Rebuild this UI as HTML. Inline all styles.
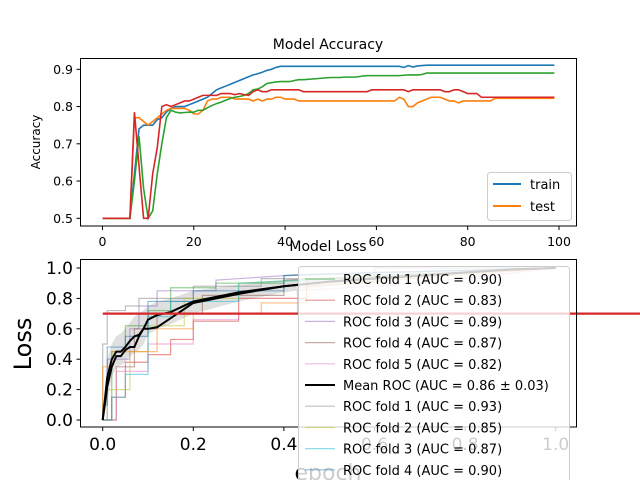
<!DOCTYPE html>
<html><head><meta charset="utf-8"><style>
html,body{margin:0;padding:0;background:#fff;}
svg{display:block;font-family:"DejaVu Sans","Liberation Sans",sans-serif;}
</style></head><body>
<svg id="fig" width="640" height="480" viewBox="0 0 640 480">
<rect width="640" height="480" fill="#fff"/>
<g id="top"></g>
<g id="bot"></g>
</svg>
<script>
// ---- Accuracy data ----
const accTrain=[0.5,0.5,0.5,0.5,0.5,0.5,0.5,0.62,0.74,0.75,0.75,0.75,0.765,0.77,0.785,0.795,0.8,0.8,0.8,0.805,0.81,0.815,0.82,0.825,0.835,0.845,0.85,0.855,0.86,0.865,0.87,0.875,0.88,0.885,0.888,0.892,0.897,0.9,0.905,0.908,0.908,0.908,0.908,0.908,0.908,0.908,0.908,0.908,0.908,0.908,0.908,0.908,0.908,0.908,0.908,0.908,0.908,0.908,0.908,0.908,0.908,0.908,0.908,0.908,0.908,0.908,0.905,0.91,0.906,0.909,0.91,0.911,0.911,0.911,0.911,0.911,0.911,0.911,0.911,0.911,0.911,0.911,0.911,0.911,0.911,0.911,0.911,0.911,0.911,0.911,0.911,0.911,0.911,0.911,0.911,0.911,0.911,0.911,0.911,0.911];
const accTest=[0.5,0.5,0.5,0.5,0.5,0.5,0.5,0.77,0.77,0.76,0.75,0.76,0.77,0.78,0.79,0.795,0.795,0.795,0.795,0.79,0.78,0.78,0.79,0.815,0.82,0.82,0.825,0.825,0.825,0.82,0.82,0.82,0.82,0.815,0.82,0.815,0.82,0.82,0.825,0.825,0.82,0.82,0.82,0.815,0.815,0.815,0.815,0.815,0.815,0.815,0.815,0.815,0.815,0.815,0.815,0.815,0.815,0.815,0.815,0.815,0.815,0.815,0.815,0.815,0.815,0.825,0.82,0.8,0.8,0.81,0.815,0.82,0.825,0.825,0.825,0.82,0.815,0.815,0.81,0.815,0.815,0.815,0.815,0.815,0.815,0.815,0.822,0.822,0.822,0.822,0.822,0.822,0.822,0.822,0.822,0.822,0.822,0.822,0.822,0.822];
const accGreen=[0.5,0.5,0.5,0.5,0.5,0.5,0.5,0.6,0.72,0.58,0.5,0.52,0.62,0.7,0.77,0.79,0.785,0.783,0.784,0.785,0.785,0.79,0.79,0.797,0.803,0.808,0.812,0.817,0.822,0.825,0.827,0.83,0.835,0.845,0.847,0.853,0.862,0.864,0.866,0.867,0.867,0.867,0.87,0.872,0.872,0.873,0.874,0.875,0.876,0.877,0.878,0.878,0.878,0.879,0.879,0.879,0.88,0.882,0.883,0.883,0.883,0.883,0.883,0.883,0.883,0.883,0.884,0.885,0.885,0.885,0.886,0.89,0.89,0.89,0.89,0.89,0.89,0.89,0.89,0.89,0.89,0.89,0.89,0.89,0.89,0.89,0.89,0.89,0.89,0.89,0.89,0.89,0.89,0.89,0.89,0.89,0.89,0.89,0.89,0.89];
const accRed=[0.5,0.5,0.5,0.5,0.5,0.5,0.5,0.785,0.64,0.5,0.5,0.62,0.69,0.8,0.805,0.8,0.805,0.81,0.815,0.815,0.82,0.825,0.83,0.83,0.83,0.83,0.835,0.835,0.835,0.832,0.835,0.832,0.83,0.84,0.845,0.84,0.84,0.845,0.845,0.845,0.845,0.845,0.845,0.845,0.84,0.84,0.84,0.84,0.84,0.84,0.84,0.84,0.84,0.84,0.84,0.84,0.84,0.84,0.84,0.845,0.845,0.845,0.845,0.845,0.845,0.845,0.845,0.84,0.845,0.845,0.845,0.845,0.845,0.845,0.845,0.84,0.84,0.845,0.845,0.84,0.835,0.835,0.835,0.825,0.825,0.825,0.825,0.825,0.825,0.825,0.825,0.825,0.825,0.825,0.825,0.825,0.825,0.825,0.825,0.825];
const accXTicks=[0,20,40,60,80,100];
const accYTicks=[0.5,0.6,0.7,0.8,0.9];

// ---- ROC data ----
const rocNames=["ROC fold 1 (AUC = 0.90)","ROC fold 2 (AUC = 0.83)","ROC fold 3 (AUC = 0.89)","ROC fold 4 (AUC = 0.87)","ROC fold 5 (AUC = 0.82)","Mean ROC (AUC = 0.86 \u00b1 0.03)","ROC fold 1 (AUC = 0.93)","ROC fold 2 (AUC = 0.85)","ROC fold 3 (AUC = 0.87)","ROC fold 4 (AUC = 0.90)"];
const rocColors=["#2ca02c","#d62728","#9467bd","#8c564b","#e377c2","#000000","#7f7f7f","#bcbd22","#17becf","#1f77b4","#ff7f0e"];
const f1x=[0,0.02,0.02,0.05,0.05,0.1,0.1,0.15,0.15,0.25,0.25,0.4,0.4,1], f1y=[0,0,0.45,0.45,0.62,0.62,0.72,0.72,0.87,0.87,0.9,0.9,0.95,1];
const f2x=[0,0.02,0.02,0.05,0.05,0.1,0.1,0.15,0.15,0.2,0.2,0.3,0.3,0.45,0.45,1], f2y=[0,0,0.15,0.15,0.38,0.38,0.43,0.43,0.53,0.53,0.65,0.65,0.8,0.8,0.92,1];
const f3x=[0,0.01,0.01,0.06,0.06,0.08,0.08,0.12,0.12,0.25,0.25,0.45,1], f3y=[0,0,0.4,0.4,0.6,0.6,0.75,0.75,0.85,0.85,0.92,0.96,1];
const f4x=[0,0.03,0.03,0.07,0.07,0.12,0.12,0.22,0.22,0.4,0.4,1], f4y=[0,0,0.35,0.35,0.6,0.6,0.7,0.7,0.82,0.82,0.92,1];
const f5x=[0,0.03,0.03,0.1,0.1,0.2,0.2,0.3,0.3,0.43,0.43,0.7,1], f5y=[0,0,0.32,0.32,0.5,0.5,0.66,0.66,0.7,0.7,0.85,0.9,1];
const g1x=[0,0,0.01,0.01,0.05,0.05,0.08,0.08,0.2,0.2,0.35,0.35,0.6,0.6,1], g1y=[0,0.5,0.5,0.72,0.72,0.75,0.75,0.8,0.8,0.88,0.88,0.93,0.93,1,1];
const g2x=[0,0.01,0.01,0.06,0.06,0.1,0.1,0.18,0.18,0.3,0.3,1], g2y=[0,0,0.2,0.2,0.45,0.45,0.62,0.62,0.8,0.8,0.9,1];
const g3x=[0,0.02,0.02,0.05,0.05,0.1,0.1,0.15,0.15,0.3,0.3,1], g3y=[0,0,0.15,0.15,0.3,0.3,0.68,0.68,0.78,0.78,0.9,1];
const g4x=[0,0,0.01,0.01,0.05,0.05,0.1,0.1,0.2,0.2,0.4,0.4,0.6,1], g4y=[0,0.1,0.1,0.48,0.48,0.55,0.55,0.78,0.78,0.85,0.85,0.95,0.97,1];
const g5x=[0,0,0.02,0.02,0.12,0.12,0.2,0.2,0.35,0.35,0.45,0.45,1], g5y=[0,0.35,0.35,0.45,0.45,0.6,0.6,0.7,0.7,0.77,0.77,0.88,1];
const meanX=[0,0.01,0.02,0.03,0.04,0.05,0.06,0.07,0.08,0.09,0.1,0.12,0.15,0.2,0.3,0.4,0.5,0.6,0.7,0.8,0.9,1];
const meanA=[0,0.28,0.4,0.45,0.45,0.48,0.52,0.55,0.56,0.6,0.66,0.69,0.71,0.78,0.84,0.88,0.91,0.93,0.95,0.97,0.99,1];
const meanB=[0,0.22,0.35,0.42,0.42,0.46,0.48,0.48,0.55,0.6,0.6,0.61,0.67,0.77,0.83,0.88,0.91,0.93,0.95,0.97,0.99,1];
const bandUp=[0,0.4,0.5,0.55,0.57,0.6,0.64,0.68,0.7,0.72,0.75,0.78,0.8,0.85,0.89,0.92,0.94,0.96,0.97,0.98,1,1];
const bandLo=[0,0.12,0.28,0.35,0.36,0.38,0.42,0.44,0.46,0.5,0.56,0.6,0.63,0.7,0.78,0.84,0.88,0.9,0.93,0.96,0.98,1];
const hLineY=0.7;
const rocTicks=[0,0.2,0.4,0.6,0.8,1.0];

const NS="http://www.w3.org/2000/svg";
function mk(parent,tag,attrs){const e=document.createElementNS(NS,tag);for(const k in attrs)e.setAttribute(k,attrs[k]);parent.appendChild(e);return e;}

// ---- top chart ----
const T=document.getElementById('top');
const tx=v=>102.5+v*4.565, ty=v=>218.3-(v-0.5)*372.5;
let t=mk(T,'text',{x:328,y:49,'text-anchor':'middle','font-size':14,fill:'#000'});t.textContent='Model Accuracy';


t=mk(T,'text',{x:0,y:0,'text-anchor':'middle','font-size':12,transform:'translate(40,142) rotate(-90)'});t.textContent='Accuracy';


accYTicks.forEach(v=>{mk(T,'line',{x1:76.5,x2:80.5,y1:ty(v),y2:ty(v),stroke:'#000'});const l=mk(T,'text',{x:73,y:ty(v)+4.5,'text-anchor':'end','font-size':12.5});l.textContent=v.toFixed(1);

});
accXTicks.forEach(v=>{mk(T,'line',{x1:tx(v),x2:tx(v),y1:226,y2:230,stroke:'#000'});const l=mk(T,'text',{x:tx(v),y:246,'text-anchor':'middle','font-size':12.5});l.textContent=v;

});
[[accTrain,'#1f77b4','train-line'],[accTest,'#ff7f0e','test-line'],[accGreen,'#2ca02c','green-line'],[accRed,'#d62728','red-line']].forEach(([d,c,n])=>{
 const p=mk(T,'polyline',{points:d.map((v,i)=>tx(i)+','+ty(v)).join(' '),fill:'none',stroke:c,'stroke-width':1.6});
 
 
});
mk(T,'rect',{x:80.5,y:58.5,width:496,height:167.5,fill:'none',stroke:'#000','stroke-width':1});
const lg=mk(T,'g',{});


mk(lg,'rect',{x:487.5,y:172.5,width:84,height:48,rx:3,fill:'#fff','fill-opacity':0.8,stroke:'#ccc'});
[['train','#1f77b4',184],['test','#ff7f0e',206]].forEach(([n,c,y])=>{mk(lg,'line',{x1:493,x2:521,y1:y,y2:y,stroke:c,'stroke-width':2});const l=mk(lg,'text',{x:530,y:y+5,'font-size':13});l.textContent=n;

});

// ---- bottom chart ----
const B=document.getElementById('bot');
const bx=v=>102.7+v*453, by=v=>420-v*152;
t=mk(B,'text',{x:328,y:251,'text-anchor':'middle','font-size':14});t.textContent='Model Loss';


t=mk(B,'text',{x:0,y:0,'text-anchor':'middle','font-size':24,transform:'translate(31,344) rotate(-90)'});t.textContent='Loss';


t=mk(B,'text',{x:328,y:480,'text-anchor':'middle','font-size':22});t.textContent='epoch';


rocTicks.forEach(v=>{mk(B,'line',{x1:76.5,x2:80.5,y1:by(v),y2:by(v),stroke:'#000'});const l=mk(B,'text',{x:73,y:by(v)+6,'text-anchor':'end','font-size':17});l.textContent=v.toFixed(1);


mk(B,'line',{x1:bx(v),x2:bx(v),y1:427,y2:431,stroke:'#000'});const m=mk(B,'text',{x:bx(v),y:450,'text-anchor':'middle','font-size':17});m.textContent=v.toFixed(1);

});
const band=mk(B,'polygon',{points:meanX.map((x,i)=>bx(x)+','+by(bandUp[i])).concat(meanX.map((x,i)=>bx(x)+','+by(bandLo[i])).reverse()).join(' '),fill:'#808080','fill-opacity':0.25});


const curves=[[f1x,f1y,0],[f2x,f2y,1],[f3x,f3y,2],[f4x,f4y,3],[f5x,f5y,4],[g1x,g1y,6],[g2x,g2y,7],[g3x,g3y,8],[g4x,g4y,9],[g5x,g5y,10]];
curves.forEach(([xs,ys,ci])=>{
 const p=mk(B,'polyline',{points:xs.map((x,i)=>bx(x)+','+by(ys[i])).join(' '),fill:'none',stroke:rocColors[ci],'stroke-opacity':0.5,'stroke-width':1.2});
 
 
});
[meanA,meanB].forEach(d=>{const p=mk(B,'polyline',{points:meanX.map((x,i)=>bx(x)+','+by(d[i])).join(' '),fill:'none',stroke:'#000','stroke-width':2});
 
 });
const hl=mk(B,'line',{x1:bx(0),x2:640,y1:by(hLineY),y2:by(hLineY),stroke:'#d62728','stroke-width':2.2});


mk(B,'rect',{x:80.5,y:259.5,width:496,height:167.5,fill:'none',stroke:'#000','stroke-width':1});
const lg2=mk(B,'g',{});


mk(lg2,'rect',{x:298.5,y:266.5,width:271,height:230,rx:3,fill:'#fff','fill-opacity':0.8,stroke:'#ccc'});
rocNames.forEach((n,i)=>{const y=279+i*21.2;const mean=i===5;const c=rocColors[i];
 mk(lg2,'line',{x1:305,x2:335,y1:y,y2:y,stroke:c,'stroke-opacity':mean?1:0.5,'stroke-width':mean?2:1.2});
 const l=mk(lg2,'text',{x:343,y:y+5,'font-size':13});l.textContent=n;
 
 
});
</script>
</body></html>
